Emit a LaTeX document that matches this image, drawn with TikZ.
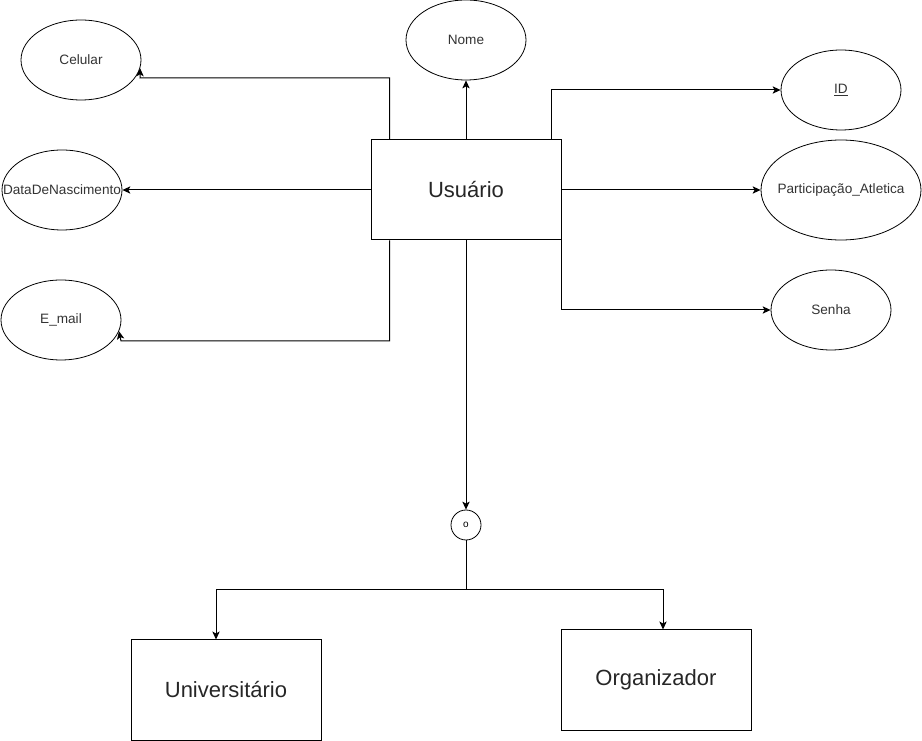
\documentclass[tikz,border=0pt]{standalone}
\usepackage{fontspec}
\setmainfont{Liberation Sans}
\usetikzlibrary{arrows.meta,shapes.geometric}
\newcommand{\rotulo}[1]{\makebox[0pt]{#1}}
\tikzset{
    entidade/.style={draw, line width=0.75pt, minimum width=142.5pt, minimum height=75pt, inner sep=0pt, font=\fontsize{16.5}{19}\selectfont, text=black!85},
    atributo/.style={draw, ellipse, line width=0.6pt, minimum width=90pt, minimum height=60pt, inner sep=0pt, font=\fontsize{10.2}{12}\selectfont, text=black!80},
    disjuncao/.style={draw, circle, line width=0.6pt, minimum size=22.5pt, inner sep=0pt, font=\fontsize{7.5}{9}\selectfont},
    liga/.style={line width=0.75pt, -{Stealth[length=6pt, width=5.5pt, inset=1.5pt]}}
}

\begin{document}
\begin{tikzpicture}[x=0.75pt, y=-0.75pt]
        \useasboundingbox (0,0) rectangle (922,741);

        \node[entidade] (usuario) at (466,190) {Usuário};

        \node[atributo] (nome) at (466,40) {Nome};
        \node[atributo] (celular) at (81,60) {Celular};
        \node[atributo] (nascimento) at (62,190) {\rotulo{DataDeNascimento}};
        \node[atributo] (email) at (61,320) {E\_mail};
        \node[atributo] (id) at (841,90) {\underline{ID}};
        \node[atributo, minimum width=120pt, minimum height=75pt] (atletica) at (841,190) {\rotulo{Participação\_Atletica}};
        \node[atributo] (senha) at (831,310) {Senha};

        \node[disjuncao] (disj) at (466,525) {o};

        \node[entidade] (univ) at (226,690) {Universitário};
        \node[entidade] (org) at (656,680) {Organizador};

        \coordinate (celdobra) at (140,78);
        \coordinate (maildobra) at (121,341);
        \coordinate (divide) at (466,590);

        % atributos
        \draw[liga] (usuario.north) -- (nome.south);
        \draw[liga] ([xshift=14.25pt]usuario.north west) |- (celdobra) -- (celular.-8);
        \draw[liga] (usuario.west) -- (nascimento.east);
        \draw[liga] ([xshift=14.25pt]usuario.south west) |- (maildobra) -- (email.-11);
        \draw[liga] ([xshift=-7.5pt]usuario.north east) |- (id.west);
        \draw[liga] (usuario.east) -- (atletica.west);
        \draw[liga] (usuario.south east) |- (senha.west);

        % especializacao
        \draw[liga] (usuario.south) -- (disj.north);
        \draw[line width=0.75pt] (disj.south) -- (divide);
        \draw[liga] (divide) -| ([xshift=-7.5pt]univ.north);
        \draw[liga] (divide) -| ([xshift=5.25pt]org.north);
    \end{tikzpicture}
\end{document}
